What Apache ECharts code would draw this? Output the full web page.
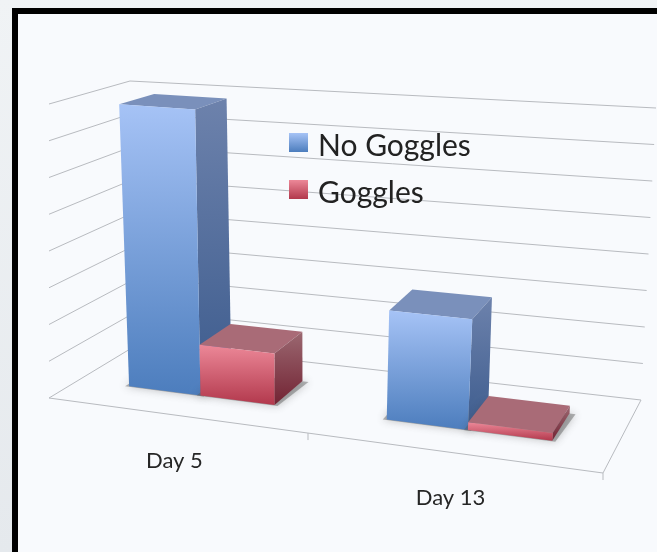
<!DOCTYPE html>
<html lang="en">
<head>
    <meta charset="UTF-8">
    <title>Goggles</title>
    <script src="https://cdn.jsdelivr.net/npm/echarts@6/dist/echarts.min.js"></script>
    <style>html,body{margin:0;padding:0;background:#edf1f4}</style>
</head>
<body>
    <div id="main" style="width: 657px;height: 552px;"></div>

    <script type="text/javascript">
        var categories = ['Day 5', 'Day 13'];
        var noGoggles = [7.9, 2.9];
        var goggles = [1.4, 0.2];
        var valueTicks = [0, 1, 2, 3, 4, 5, 6, 7, 8];
        var seriesNames = ['No Goggles', 'Goggles'];

        // corners of the 3d plot box on screen, named by x / value / depth
        var box = {
            p000: [49, 398], p100: [603, 473], p001: [140, 343], p101: [641, 400],
            p010: [34, 105], p110: [628, 149], p011: [130, 81], p111: [656, 108]
        };
        // the left wall lines all stop at the same screen x
        var wallFloor = [49, 398], wallTop = [49, 104];
        var persp = 0.878;          // foreshortening along x
        var barFront = 0.33, barBack = 0.72;   // depth range of the bars
        var barShare = 0.29;        // bar width as part of a category band
        var labelDrop = 46;
        // how far the floor shadow sticks out at each corner of a bar
        var shadowSpread = [[-4, 0], [3, 1], [6, 1], [-4, 0]];

        function mix(a, b, t) {
            return [a[0] + (b[0] - a[0]) * t, a[1] + (b[1] - a[1]) * t];
        }
        function project(u, v, z) {
            var t = persp * u / (1 - (1 - persp) * u);
            var floor = mix(mix(box.p000, box.p100, t), mix(box.p001, box.p101, t), z);
            var top = mix(mix(box.p010, box.p110, t), mix(box.p011, box.p111, t), z);
            return mix(floor, top, v);
        }
        // scale position of [category, value] as 0..1 inside the grid
        function unit(params, api, cat, val) {
            var cs = params.coordSys;
            var p = api.coord([cat, val]);
            return [(p[0] - cs.x) / cs.width, 1 - (p[1] - cs.y) / cs.height];
        }
        function vGrad(c0, c1) {
            return new echarts.graphic.LinearGradient(0, 0, 0, 1, [
                { offset: 0, color: c0 }, { offset: 1, color: c1 }
            ]);
        }
        function poly(points, fill, extra) {
            var style = { fill: fill, stroke: null };
            for (var k in extra) style[k] = extra[k];
            return { type: 'polygon', shape: { points: points }, style: style };
        }
        function line(a, b) {
            return {
                type: 'polyline', shape: { points: [a, b] },
                style: { fill: null, stroke: '#b8bbc0', lineWidth: 1 }
            };
        }

        // one 3d bar; offset says which side of the category centre it sits on
        function barRenderer(offset, colors) {
            return function (params, api) {
                var cat = api.value(0), val = api.value(1);
                var cs = params.coordSys;
                var band = api.size([1, 0])[0] / cs.width;
                var c = unit(params, api, cat, val);
                var w = band * barShare;
                var u0 = c[0] + offset * w, u1 = u0 + w, v = c[1];
                var shadow = [project(u0, 0, barFront), project(u1, 0, barFront),
                              project(u1, 0, barBack), project(u0, 0, barBack)].map(function (p, i) {
                    return [p[0] + shadowSpread[i][0], p[1] + shadowSpread[i][1]];
                });
                return {
                    type: 'group',
                    children: [
                        poly(shadow, 'rgba(90,90,90,0.45)', { shadowBlur: 8, shadowColor: 'rgba(70,70,70,0.7)' }),
                        poly([project(u0, v, barFront), project(u1, v, barFront), project(u1, v, barBack), project(u0, v, barBack)], colors.top),
                        poly([project(u1, v, barFront), project(u1, v, barBack), project(u1, 0, barBack), project(u1, 0, barFront)], vGrad(colors.side[0], colors.side[1])),
                        poly([project(u0, v, barFront), project(u1, v, barFront), project(u1, 0, barFront), project(u0, 0, barFront)], vGrad(colors.front[0], colors.front[1]))
                    ]
                };
            };
        }

        function renderWall(params, api) {
            var c = unit(params, api, 0, api.value(0));
            var v = c[1];
            var items = [
                line(mix(wallFloor, wallTop, v), project(0, v, 1)),
                line(project(0, v, 1), project(1, v, 1))
            ];
            if (v === 0) {
                items.push(line(project(0, 0, 0), project(1, 0, 0)));
                items.push(line(project(1, 0, 0), project(1, 0, 1)));
            }
            return { type: 'group', children: items };
        }

        function renderAxis(params, api) {
            var cat = api.value(0);
            var cs = params.coordSys;
            var band = api.size([1, 0])[0] / cs.width;
            var c = unit(params, api, cat, 0);
            var foot = project(c[0], 0, 0);
            var edge = project(c[0] + band / 2, 0, 0);
            return {
                type: 'group',
                children: [
                    line(edge, [edge[0], edge[1] + 7]),
                    {
                        type: 'text',
                        style: {
                            x: foot[0], y: foot[1] + labelDrop, text: categories[cat],
                            fill: '#262626', font: '22px Lato', align: 'center', verticalAlign: 'middle'
                        }
                    }
                ]
            };
        }

        var blue = {
            front: ['#a6c3f6', '#4c7dbd'], side: ['#6d82ac', '#3c5b8d'], top: '#7a90bb'
        };
        var red = {
            front: ['#ec8898', '#b2384c'], side: ['#9b6871', '#722333'], top: '#a96b77'
        };

        myChart = echarts.init(document.getElementById('main'));
        var option = {
            animation: false,
            backgroundColor: vGrad('#f0f3f5', '#e5e9ed'),
            graphic: [
                { type: 'rect', z: 0, shape: { x: 12, y: 8, width: 645, height: 544 }, style: { fill: '#000' } },
                { type: 'rect', z: 0, shape: { x: 18, y: 14, width: 639, height: 538 }, style: { fill: '#f8fafd' } }
            ],
            grid: { left: 0, top: 0, width: 657, height: 552 },
            xAxis: { type: 'category', data: categories, show: false },
            yAxis: { type: 'value', min: 0, max: 8, interval: 1, show: false },
            // swatches and names sit slightly off each other in the picture, so two legends
            legend: [
                {
                    left: 289, top: 133, orient: 'vertical', selectedMode: false, padding: 0,
                    itemWidth: 19, itemHeight: 19, itemGap: 28, icon: 'rect',
                    data: seriesNames,
                    formatter: ' ',
                    textStyle: { fontSize: 10 }
                },
                {
                    left: 313, top: 131, orient: 'vertical', selectedMode: false, padding: 0,
                    itemWidth: 0, itemHeight: 0, itemGap: 17, icon: 'rect',
                    data: seriesNames,
                    textStyle: { fontFamily: 'Lato', fontSize: 30, color: '#222' }
                }
            ],
            series: [
                {
                    type: 'custom', name: 'wall', silent: true, z: 1,
                    coordinateSystem: 'cartesian2d', renderItem: renderWall,
                    encode: { y: 0 },
                    data: valueTicks.map(function (t) { return [t]; })
                },
                {
                    type: 'custom', name: 'axis', silent: true, z: 1,
                    coordinateSystem: 'cartesian2d', renderItem: renderAxis,
                    encode: { x: 0 },
                    data: categories.map(function (c, i) { return [i]; })
                },
                {
                    type: 'custom', name: seriesNames[0], z: 2,
                    coordinateSystem: 'cartesian2d', renderItem: barRenderer(-1, blue),
                    itemStyle: { color: vGrad('#a6c3f6', '#4c7dbd') },
                    encode: { x: 0, y: 1 },
                    data: noGoggles.map(function (v, i) { return [i, v]; })
                },
                {
                    type: 'custom', name: seriesNames[1], z: 3,
                    coordinateSystem: 'cartesian2d', renderItem: barRenderer(0, red),
                    itemStyle: { color: vGrad('#ec8898', '#b2384c') },
                    encode: { x: 0, y: 1 },
                    data: goggles.map(function (v, i) { return [i, v]; })
                }
            ]
        };
        myChart.setOption(option);
    </script>
</body>
</html>
